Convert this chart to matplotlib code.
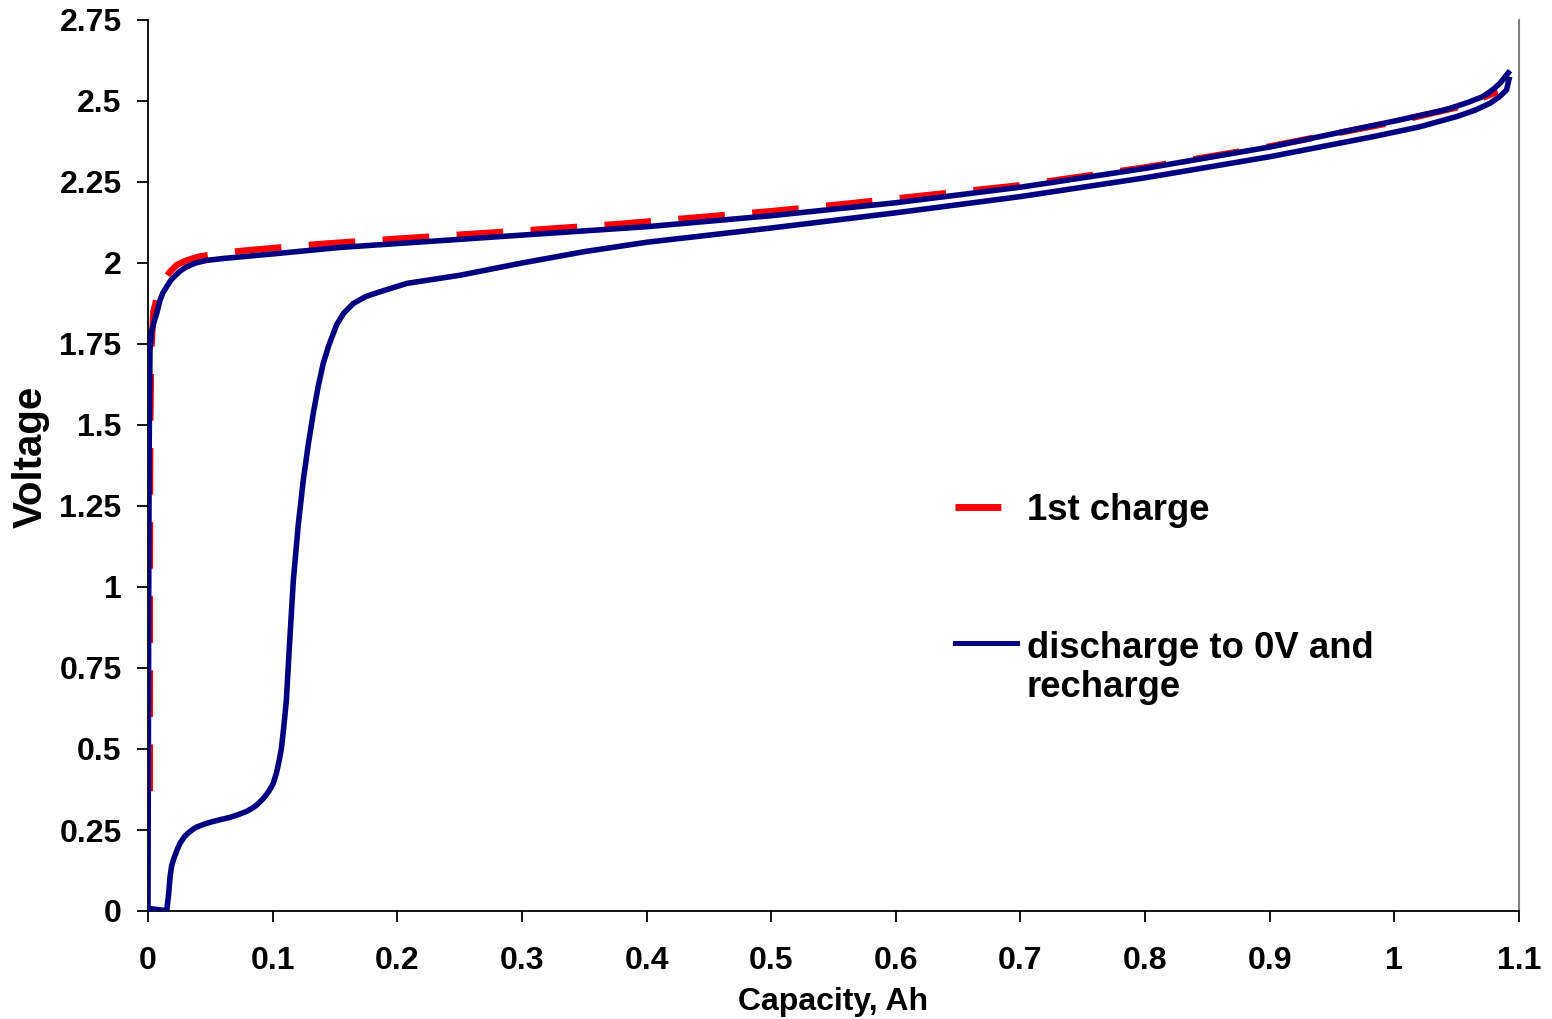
import numpy as np
import matplotlib
matplotlib.use('Agg')
import matplotlib.pyplot as plt
from matplotlib.lines import Line2D

plt.rcParams['font.family'] = ['Liberation Sans', 'DejaVu Sans']
plt.rcParams['font.weight'] = 'bold'

# 1st charge (red dashed)
charge_x = [0.0015, 0.0015, 0.0018, 0.0025, 0.0043, 0.0080, 0.0123, 0.017, 0.023, 0.031,
            0.040, 0.060, 0.082, 0.139, 0.20, 0.30, 0.376, 0.50, 0.563, 0.70,
            0.80, 0.90, 1.00, 1.05, 1.083]
charge_v = [0.37, 1.00, 1.50, 1.72, 1.85, 1.905, 1.942, 1.970, 1.994, 2.008,
            2.019, 2.032, 2.040, 2.059, 2.075, 2.100, 2.120, 2.160, 2.184, 2.240,
            2.295, 2.360, 2.435, 2.480, 2.528]

# discharge to 0V (upper branch, drawn backwards) then recharge (lower branch)
upper_x = [0.0, 0.0003, 0.0006, 0.0009, 0.0013, 0.0016, 0.003, 0.005, 0.007, 0.0096,
           0.012, 0.015, 0.018, 0.0203, 0.0257, 0.030, 0.0337, 0.039, 0.047, 0.0604,
           0.10, 0.154, 0.20, 0.25, 0.3225, 0.40, 0.50, 0.60, 0.70, 0.80,
           0.90, 1.00, 1.02, 1.04, 1.05, 1.06, 1.07, 1.075, 1.08, 1.085, 1.088, 1.0914]
upper_v = [0.008, 0.50, 1.00, 1.40, 1.60, 1.73, 1.79, 1.82, 1.845, 1.885,
           1.908, 1.927, 1.945, 1.955, 1.975, 1.986, 1.993, 2.001, 2.008, 2.014,
           2.028, 2.048, 2.060, 2.073, 2.092, 2.112, 2.146, 2.186, 2.234, 2.292,
           2.358, 2.438, 2.455, 2.472, 2.484, 2.497, 2.512, 2.524, 2.538, 2.556, 2.570, 2.587]
lower_x = [0.015, 0.0165, 0.0177, 0.019, 0.021, 0.0235, 0.0257, 0.029, 0.032, 0.036,
           0.039, 0.045, 0.050, 0.058, 0.0658, 0.072, 0.079, 0.084, 0.0875, 0.092,
           0.0952, 0.098, 0.1005, 0.103, 0.105, 0.107, 0.109, 0.111, 0.1135, 0.1166,
           0.1205, 0.1246, 0.1286, 0.1326, 0.1366, 0.1406, 0.145, 0.1514, 0.157, 0.1647,
           0.175, 0.186, 0.2076, 0.25, 0.30, 0.35, 0.40, 0.50, 0.60, 0.70,
           0.80, 0.90, 0.983, 1.02, 1.05, 1.065, 1.0767, 1.084, 1.09, 1.092]
lower_v = [0.001, 0.05, 0.106, 0.14, 0.165, 0.19, 0.209, 0.228, 0.24, 0.252,
           0.259, 0.268, 0.274, 0.282, 0.289, 0.297, 0.307, 0.318, 0.328, 0.345,
           0.36, 0.376, 0.394, 0.425, 0.46, 0.50, 0.57, 0.65, 0.82, 1.02,
           1.19, 1.33, 1.44, 1.536, 1.62, 1.69, 1.745, 1.81, 1.845, 1.875,
           1.897, 1.911, 1.937, 1.962, 2.000, 2.035, 2.064, 2.108, 2.155, 2.205,
           2.263, 2.328, 2.390, 2.420, 2.452, 2.472, 2.493, 2.512, 2.534, 2.567]

blue_x = upper_x[::-1] + lower_x
blue_v = upper_v[::-1] + lower_v

xticks = [0, 0.1, 0.2, 0.3, 0.4, 0.5, 0.6, 0.7, 0.8, 0.9, 1.0, 1.1]
xticklabels = ['0', '0.1', '0.2', '0.3', '0.4', '0.5', '0.6', '0.7', '0.8', '0.9', '1', '1.1']
yticks = [0, 0.25, 0.5, 0.75, 1, 1.25, 1.5, 1.75, 2, 2.25, 2.5, 2.75]
yticklabels = ['0', '0.25', '0.5', '0.75', '1', '1.25', '1.5', '1.75', '2', '2.25', '2.5', '2.75']

RED = '#FF0000'
NAVY = '#000080'

fig = plt.figure(figsize=(15.52, 10.19), dpi=100)
ax = fig.add_axes([148/1552, 1-911/1019, (1519-148)/1552, (911-20)/1019])

ax.plot(charge_x, charge_v, color=RED, lw=4.6, dashes=(7.3, 4.3),
        dash_capstyle='butt', zorder=2)
ax.plot(blue_x, blue_v, color=NAVY, lw=4.0, zorder=3, solid_joinstyle='round')

ax.set_xlim(0, 1.1)
ax.set_ylim(0, 2.75)
ax.set_xticks(xticks)
ax.set_xticklabels(xticklabels)
ax.set_yticks(yticks)
ax.set_yticklabels(yticklabels)
ax.tick_params(axis='both', direction='out', length=8, width=1.3, labelsize=23)
ax.tick_params(axis='x', pad=17)
ax.tick_params(axis='y', pad=11)

for s in ['left', 'bottom']:
    ax.spines[s].set_linewidth(1.3)
    ax.spines[s].set_color('black')
ax.spines['right'].set_color('#808080')
ax.spines['right'].set_linewidth(1.5)
ax.spines['top'].set_visible(False)

ax.set_xlabel('Capacity, Ah', fontsize=23, fontweight='bold')
ax.xaxis.set_label_coords(0.5, -0.085)
ax.set_ylabel('Voltage', fontsize=29, fontweight='bold')
ax.yaxis.set_label_coords(-0.0715, 0.5095)

# legend drawn by hand so the handle lines up with the first text line
hx = [0.5886, 0.6338]
ax.add_line(Line2D(hx, [0.4534, 0.4534], transform=ax.transAxes, color=RED, lw=5,
                   dashes=(6.6, 4.5), dash_capstyle='butt', clip_on=False))
ax.add_line(Line2D(hx, [0.3008, 0.3008], transform=ax.transAxes, color=NAVY, lw=3.6,
                   clip_on=False))
ax.text(0.6411, 0.4388, '1st charge', transform=ax.transAxes, fontsize=26.3,
        fontweight='bold', va='baseline', ha='left')
ax.text(0.6411, 0.2405, 'discharge to 0V and\nrecharge', transform=ax.transAxes,
        fontsize=26.3, fontweight='bold', va='baseline', ha='left', linespacing=1.12)

fig.savefig('out.png', dpi=100)
